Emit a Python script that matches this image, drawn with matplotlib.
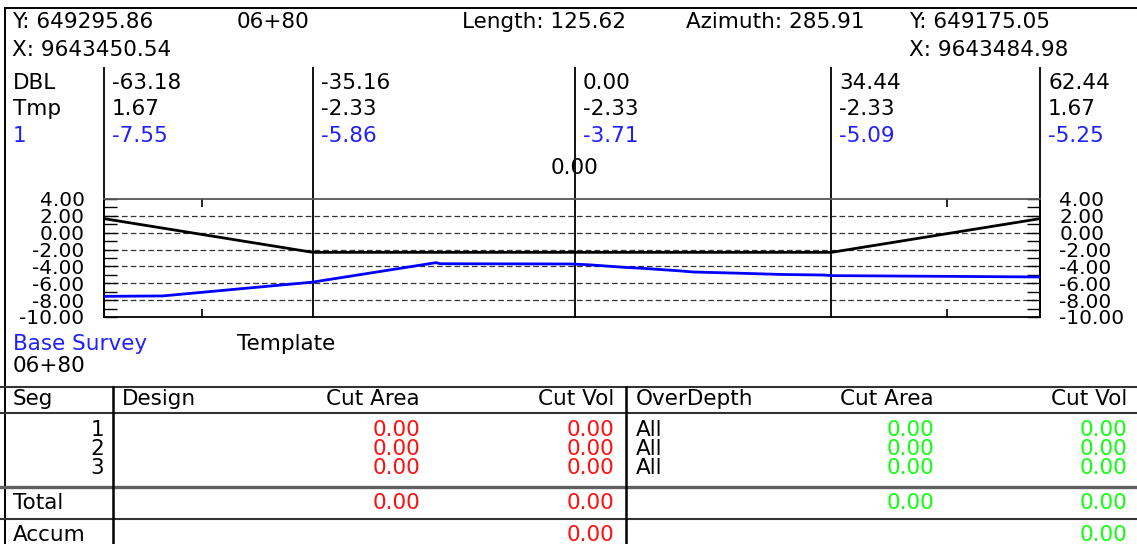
import matplotlib
matplotlib.use("Agg")
import matplotlib.pyplot as plt
import matplotlib.transforms as mtransforms

plt.rcParams['font.family'] = ['DejaVu Sans']
FS = 15.5

# header info
start_y, start_x = "649295.86", "9643450.54"
end_y, end_x = "649175.05", "9643484.98"
station = "06+80"
length = 125.62
azimuth = 285.91

# section points
offsets = [-63.18, -35.16, 0.00, 34.44, 62.44]
template_z = [1.67, -2.33, -2.33, -2.33, 1.67]
base_z = [-7.55, -5.86, -3.71, -5.09, -5.25]

# base survey profile
base_x = [-63.18, -55.3, -35.16, -18.6, -18.1, -0.6, 1.8, 4.2, 6.5, 9.0,
          11.2, 13.7, 15.9, 21.9, 27.6, 33.4, 34.44, 62.44]
base_y = [-7.55, -7.5, -5.86, -3.55, -3.68, -3.71, -3.8, -3.95, -4.1, -4.22,
          -4.35, -4.5, -4.66, -4.8, -4.95, -5.02, -5.09, -5.25]

y_ticks = [4, 2, 0, -2, -4, -6, -8, -10]
y_minor = [3, 1, -1, -3, -5, -7, -9]
x_ticks = [-50, 0, 50]

# table
headers = ["Seg", "Design", "Cut Area", "Cut Vol", "OverDepth", "Cut Area", "Cut Vol"]
segs = ["1", "2", "3"]
design_area = [0.00, 0.00, 0.00]
design_vol = [0.00, 0.00, 0.00]
overdepth = ["All", "All", "All"]
od_area = [0.00, 0.00, 0.00]
od_vol = [0.00, 0.00, 0.00]
total_design_area, total_design_vol = 0.00, 0.00
total_od_area, total_od_vol = 0.00, 0.00
accum_design_vol, accum_od_vol = 0.00, 0.00

W, H = 1137, 544
fig = plt.figure(figsize=(W / 100, H / 100), dpi=100)
bg = fig.add_axes([0, 0, 1, 1])
bg.set_xlim(0, W)
bg.set_ylim(H, 0)
bg.axis("off")

# plot area (pixel box 104..1040, 199..317)
px0, px1, py0, py1 = 104, 1040, 199, 317
ax = fig.add_axes([px0 / W, (H - py1) / H, (px1 - px0) / W, (py1 - py0) / H])
ax.set_xlim(offsets[0], offsets[-1])
ax.set_ylim(-10, 4)

for v in y_ticks[1:-1]:
    ax.axhline(v, color="#333333", lw=0.9, dashes=(4.5, 2.5), zorder=1)

ax.plot(offsets, template_z, color="black", lw=2.0, zorder=3)
ax.plot(base_x, base_y, color="#0000ff", lw=2.0, zorder=3)

# vertical section lines, extending up into the label area
top_frac = (py1 - 68) / (py1 - py0)
for x in offsets:
    ax.axvline(x, ymin=0, ymax=top_frac, color="#111111", lw=1.4, clip_on=False, zorder=2)

ax.set_yticks(y_ticks, [f"{v:.2f}" for v in y_ticks])
ax.set_yticks(y_minor, minor=True)
ax.set_xticks(x_ticks, [])
ax.tick_params(axis="y", which="both", direction="in", length=9.5, width=1,
               left=True, right=True, labelleft=True, labelright=True,
               labelsize=14.5, pad=14)
ax.tick_params(axis="x", which="both", direction="in", length=6, width=1.2,
               top=True, bottom=True, labelbottom=False)
for s in ax.spines.values():
    s.set_linewidth(1.3)
ax.spines["top"].set_color("#555555")
ax.patch.set_alpha(0)

# labels above the section, x from data, y in pixels
trans = mtransforms.blended_transform_factory(ax.transData, bg.transData)
dx = 8 / 936 * (offsets[-1] - offsets[0])
for i, x in enumerate(offsets):
    bg.text(x + dx, 83, f"{x:.2f}", transform=trans, fontsize=FS, va="center", ha="left")
    bg.text(x + dx, 109, f"{template_z[i]:.2f}", transform=trans, fontsize=FS, va="center", ha="left")
    bg.text(x + dx, 136, f"{base_z[i]:.2f}", transform=trans, fontsize=FS, va="center",
            ha="left", color="#2020ff")
bg.text(0, 168, "0.00", transform=trans, fontsize=FS, va="center", ha="center")

bg.text(13, 83, "DBL", fontsize=FS, va="center")
bg.text(13, 109, "Tmp", fontsize=FS, va="center")
bg.text(13, 136, "1", fontsize=FS, va="center", color="#2020ff")

# header info
bg.text(12, 22, "Y: " + start_y, fontsize=FS, va="center")
bg.text(12, 50, "X: " + start_x, fontsize=FS, va="center")
bg.text(237, 22, station, fontsize=FS, va="center")
bg.text(462, 22, f"Length: {length:.2f}", fontsize=FS, va="center")
bg.text(686, 22, f"Azimuth: {azimuth:.2f}", fontsize=FS, va="center")
bg.text(909, 22, "Y: " + end_y, fontsize=FS, va="center")
bg.text(909, 50, "X: " + end_x, fontsize=FS, va="center")

# legend row
bg.text(13, 344, "Base Survey", fontsize=FS, va="center", color="#2020ff")
bg.text(237, 344, "Template", fontsize=FS, va="center")
bg.text(13, 366, station, fontsize=FS, va="center")

# frame
bg.plot([5, 5], [8, H], color="black", lw=1.4)
bg.plot([5, W], [8, 8], color="black", lw=1.4)

# table lines
bg.plot([0, W], [386.7, 386.7], color="#333333", lw=1.5)
bg.plot([0, W], [412.7, 412.7], color="#333333", lw=1.5)
bg.plot([0, W], [486.7, 486.7], color="#606060", lw=2.4)
bg.plot([0, W], [519.3, 519.3], color="#333333", lw=1.5)
for x in [113, 626]:
    bg.plot([x, x], [386.7, H], color="black", lw=1.8)

# table header
hx = [13, 122, 420, 614, 636, 934, 1127]
ha = ["left", "left", "right", "right", "left", "right", "right"]
for t, x, a in zip(headers, hx, ha):
    bg.text(x, 399, t, fontsize=FS, va="center", ha=a)

red = "#ff1010"
green = "#10ff10"
row_y = [430, 449, 468]
for i, y in enumerate(row_y):
    bg.text(104, y, segs[i], fontsize=FS, va="center", ha="right")
    bg.text(420, y, f"{design_area[i]:.2f}", fontsize=FS, va="center", ha="right", color=red)
    bg.text(614, y, f"{design_vol[i]:.2f}", fontsize=FS, va="center", ha="right", color=red)
    bg.text(636, y, overdepth[i], fontsize=FS, va="center", ha="left")
    bg.text(934, y, f"{od_area[i]:.2f}", fontsize=FS, va="center", ha="right", color=green)
    bg.text(1127, y, f"{od_vol[i]:.2f}", fontsize=FS, va="center", ha="right", color=green)

bg.text(13, 503, "Total", fontsize=FS, va="center")
bg.text(420, 503, f"{total_design_area:.2f}", fontsize=FS, va="center", ha="right", color=red)
bg.text(614, 503, f"{total_design_vol:.2f}", fontsize=FS, va="center", ha="right", color=red)
bg.text(934, 503, f"{total_od_area:.2f}", fontsize=FS, va="center", ha="right", color=green)
bg.text(1127, 503, f"{total_od_vol:.2f}", fontsize=FS, va="center", ha="right", color=green)

bg.text(13, 535, "Accum", fontsize=FS, va="center")
bg.text(614, 535, f"{accum_design_vol:.2f}", fontsize=FS, va="center", ha="right", color=red)
bg.text(1127, 535, f"{accum_od_vol:.2f}", fontsize=FS, va="center", ha="right", color=green)

fig.savefig("out.png", dpi=100)
